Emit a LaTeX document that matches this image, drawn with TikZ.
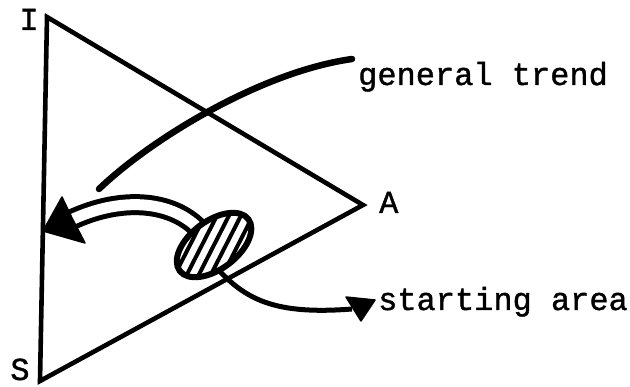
\documentclass[tikz,border=0pt]{standalone}
\usepackage{fontspec}
\newfontfamily\twfont[FakeBold=1.2]{Liberation Mono}
\begin{document}
\begin{tikzpicture}[x=1pt,y=-1pt,
  lbl/.style={font=\twfont\fontsize{32}{38}\selectfont, inner sep=0pt, anchor=base west},
  tri/.style={line width=4.6pt, line join=miter},
  trend/.style={line width=6.5pt, line cap=round},
  shaft/.style={line width=5pt, double, double distance=11pt},
  arrowline/.style={line width=5pt},
  head/.style={fill=black, draw=black, line width=1.5pt, line join=round},
  hatch/.style={line width=4pt},
  blob/.style={line width=6pt}]
\useasboundingbox (0,0) rectangle (630,387);
% triangle
\coordinate (I) at (47,17);
\coordinate (A) at (363,205);
\coordinate (S) at (40,381);
\draw[tri] (I) -- (A) -- (S) -- cycle;
% labels
\node[lbl, anchor=base] (lI) at (29,30) {I};
\node[lbl, anchor=base] (lS) at (20,380) {S};
\node[lbl] (lA) at (379,213) {A};
\node[lbl] (lgt) at (358,85) {general trend};
\node[lbl] (lsa) at (378,310) {starting area};
% general trend curve
\coordinate (t1) at (99,189);
\coordinate (t2) at (352,59);
\draw[trend] (t1) .. controls (150,140) and (260,72) .. (t2);
% hollow arrow shaft
\coordinate (u1) at (198,228);
\coordinate (u2) at (71,220);
\draw[shaft] (u1) .. controls (170,200) and (120,197) .. (u2);
% lower arrow
\coordinate (l1) at (215,266);
\coordinate (l2) at (352,309);
\draw[arrowline] (l1) .. controls (245,300) and (275,315) .. (l2);
% hatched ellipse
\coordinate (E) at (214,245);
\fill[white, rotate around={37:(E)}] (E) ellipse [x radius=43, y radius=24];
\begin{scope}
  \clip[rotate around={37:(E)}] (E) ellipse [x radius=43, y radius=24];
  \foreach \i in {-5,...,5} \draw[hatch] ({214+\i*12-27},298) -- ++(54,-106);
\end{scope}
\draw[blob, rotate around={37:(E)}] (E) ellipse [x radius=43, y radius=24];
% arrow heads
\coordinate (h1) at (43,231);
\coordinate (h2) at (62,197);
\coordinate (h3) at (85,243);
\fill[head] (h1) -- (h2) -- (72,218) -- (h3) -- cycle;
\coordinate (k1) at (346,297);
\coordinate (k2) at (375,300);
\coordinate (k3) at (361,321);
\fill[head] (k1) -- (k2) -- (k3) -- cycle;
\end{tikzpicture}
\end{document}
